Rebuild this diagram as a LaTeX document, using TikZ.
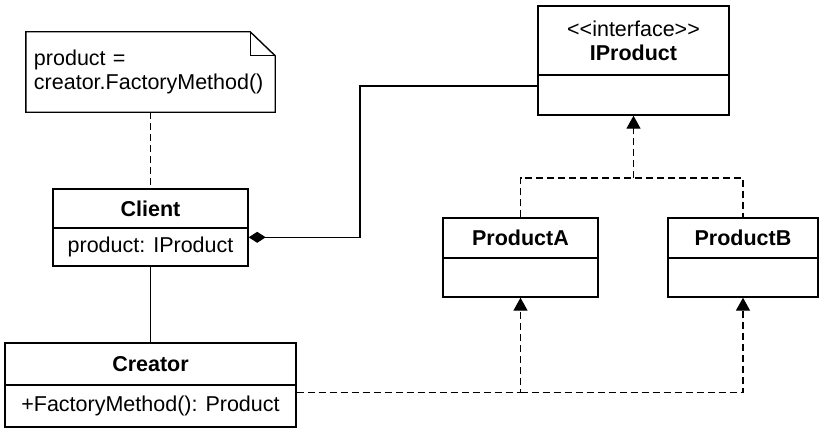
\documentclass[tikz,border=0pt]{standalone}
\usepackage{fontspec}
\setmainfont{Liberation Sans}
\usepackage{tikz}
\usetikzlibrary{arrows.meta, positioning}
\tikzset{%
	uml part/.style={
		draw,
		line width=1.4pt,
		inner sep=2pt,
		align=center,
		font=\fontsize{21.5}{24}\selectfont
	},
	uml name/.style={
		uml part,
		font=\fontsize{21.5}{24}\selectfont\bfseries
	},
	realize/.style={
		line width=1.4pt,
		dash pattern=on 7pt off 4pt,
		-{Triangle[length=13pt,width=14pt]}
	},
	compose/.style={
		line width=1.4pt,
		{Diamond[length=17pt,width=11pt]}-
	},
}
\begin{document}
\begin{tikzpicture}[x=1pt,y=-1pt]
			\useasboundingbox (0,0) rectangle (822,428);
			
			% Draw the note
			\node[minimum width=249pt, minimum height=80pt, inner xsep=8pt, text width=233pt, align=left,
				font=\fontsize{21.5}{24}\selectfont] (note) at (150.5,72) {product =\\creator.FactoryMethod()};
			\draw[line width=1.4pt] (note.north west) -- ([xshift=-25pt]note.north east)
				-- ([yshift=-24pt]note.north east) -- (note.south east) -- (note.south west) -- cycle;
			\draw[line width=1.4pt] ([xshift=-25pt]note.north east) |- ([yshift=-24pt]note.north east);
			
			% Draw the client and the creator
			\node[uml name, minimum width=195pt, minimum height=39pt] (cli) at (150.5,208.5) {Client};
			\node[uml part, minimum width=195pt, minimum height=38pt] (clibody) at (150.5,247) {product: IProduct};
			\node[uml name, minimum width=291pt, minimum height=42pt] (cre) at (150.5,364) {Creator};
			\node[uml part, minimum width=291pt, minimum height=42pt] (crebody) at (150.5,406) {+FactoryMethod(): Product};
			
			% Draw the interface and the products
			\node[uml part, minimum width=191pt, minimum height=69pt] (iprod) at (633.5,40.5)
				{<\kern0pt<interface>\kern0pt>\\\textbf{IProduct}};
			\node[uml part, minimum width=191pt, minimum height=40pt] (iprodbody) at (633.5,95) {};
			\node[uml name, minimum width=155pt, minimum height=40pt] (pa) at (520.5,238) {ProductA};
			\node[uml part, minimum width=155pt, minimum height=39pt] (pabody) at (520.5,277.5) {};
			\node[uml name, minimum width=150pt, minimum height=40pt] (pb) at (743,238) {ProductB};
			\node[uml part, minimum width=150pt, minimum height=39pt] (pbbody) at (743,277.5) {};
			
			% Note and association lines
			\draw[line width=1.4pt, dash pattern=on 7pt off 4pt] (note.south) -- (note.south |- cli.north);
			\draw[line width=1.4pt] (clibody.south) -- (clibody.south |- cre.north);
			
			% Composition from client to interface
			\coordinate (turn) at (360,86);
			\draw[compose] ([yshift=-10pt]clibody.north east) -| (turn) -- (turn -| iprodbody.west);
			
			% Products realize the interface
			\coordinate (join) at (633.5,178);
			\draw[realize, -] (pa.north) |- (join) -| (pb.north);
			\draw[realize] (join) -- (iprodbody.south);
			
			% Creator makes the products
			\coordinate (bus) at ([yshift=-8pt]crebody.north east);
			\draw[realize] (bus) -| (pabody.south);
			\draw[realize] (bus -| pabody.south) -| (pbbody.south);
			
		\end{tikzpicture}
\end{document}
